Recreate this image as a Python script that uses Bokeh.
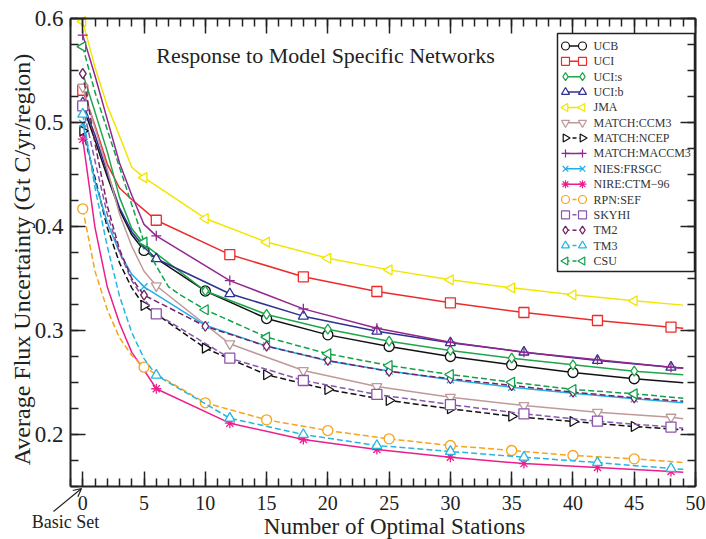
import math
from bokeh.plotting import figure
from bokeh.models import (Range1d, FixedTicker, LinearAxis, Label, Arrow, OpenHead)
from bokeh.embed import file_html
from bokeh.resources import INLINE

# ---------------- data ----------------
names = ["UCB", "UCI", "UCI:s", "UCI:b", "JMA", "MATCH:CCM3", "MATCH:NCEP",
         "MATCH:MACCM3", "NIES:FRSGC", "NIRE:CTM\u221296", "RPN:SEF", "SKYHI",
         "TM2", "TM3", "CSU"]

x5 = [0, 1, 2, 3, 4, 5, 10, 15, 20, 25, 30, 35, 40, 45, 49]
x6 = [0, 1, 2, 3, 4, 5, 6, 12, 18, 24, 30, 36, 42, 48, 49]
x_csu = [0, 1, 2, 3, 4, 5, 6, 7, 8, 10, 15, 20, 25, 30, 35, 40, 45, 49]

ucb = [0.516, 0.483, 0.448, 0.416, 0.392, 0.377, 0.338, 0.3115, 0.2958, 0.2846, 0.275, 0.267, 0.2596, 0.2536, 0.2497]
uci = [0.531, 0.497, 0.460, 0.437, 0.426, 0.416, 0.406, 0.373, 0.3516, 0.3375, 0.3266, 0.3173, 0.3096, 0.3032, 0.3022]
uci_s = [0.547, 0.510, 0.472, 0.428, 0.398, 0.383, 0.338, 0.3154, 0.3013, 0.2897, 0.2808, 0.2734, 0.267, 0.2609, 0.2574]
uci_b = [0.519, 0.488, 0.452, 0.418, 0.395, 0.380, 0.369, 0.3353, 0.3138, 0.2993, 0.2882, 0.2792, 0.2712, 0.2647, 0.2640]
jma = [0.597, 0.553, 0.516, 0.487, 0.457, 0.447, 0.4077, 0.385, 0.3695, 0.3583, 0.3487, 0.341, 0.3343, 0.3285, 0.3244]
ccm3 = [0.534, 0.495, 0.455, 0.412, 0.381, 0.357, 0.343, 0.2872, 0.2615, 0.2462, 0.2359, 0.2279, 0.2214, 0.2167, 0.2151]
ncep = [0.492, 0.447, 0.399, 0.365, 0.341, 0.324, 0.283, 0.2574, 0.2433, 0.2327, 0.2247, 0.2176, 0.2125, 0.2077, 0.2045]
maccm3 = [0.584, 0.545, 0.503, 0.461, 0.430, 0.402, 0.391, 0.348, 0.3208, 0.3022, 0.2888, 0.2792, 0.2718, 0.2647, 0.2637]
nies = [0.499, 0.443, 0.404, 0.375, 0.354, 0.342, 0.305, 0.285, 0.2706, 0.261, 0.2526, 0.2455, 0.2397, 0.2343, 0.2305]
nire = [0.484, 0.399, 0.342, 0.307, 0.279, 0.262, 0.244, 0.2109, 0.1952, 0.1856, 0.1782, 0.172, 0.1683, 0.1644, 0.1637]
rpn = [0.417, 0.357, 0.320, 0.293, 0.276, 0.2647, 0.2305, 0.2141, 0.2038, 0.1958, 0.1894, 0.1846, 0.1798, 0.1766, 0.1731]
skyhi = [0.516, 0.463, 0.412, 0.375, 0.348, 0.330, 0.316, 0.2734, 0.2519, 0.2385, 0.2288, 0.2199, 0.2128, 0.2071, 0.2061]
tm2 = [0.547, 0.480, 0.420, 0.378, 0.350, 0.334, 0.3041, 0.2849, 0.2712, 0.2606, 0.2536, 0.2471, 0.2407, 0.2353, 0.2320]
tm3 = [0.508, 0.437, 0.381, 0.333, 0.298, 0.273, 0.257, 0.2157, 0.200, 0.1894, 0.1837, 0.1782, 0.173, 0.1673, 0.1665]
csu = [0.573, 0.529, 0.493, 0.457, 0.421, 0.385, 0.362, 0.342, 0.334, 0.320, 0.2936, 0.2776, 0.2663, 0.2577, 0.2503, 0.2433, 0.2391, 0.2349]

xs_list = [x5, x6, x5, x6, x5, x6, x5, x6, x5, x6, x5, x6, x5, x6, x_csu]
ys_list = [ucb, uci, uci_s, uci_b, jma, ccm3, ncep, maccm3, nies, nire, rpn, skyhi, tm2, tm3, csu]
marker_step = [5, 6, 5, 6, 5, 6, 5, 6, 5, 6, 5, 6, 5, 6, 5]

x_major = [0, 5, 10, 15, 20, 25, 30, 35, 40, 45, 50]
x_minor = list(range(-1, 51))
y_major = [0.2, 0.3, 0.4, 0.5, 0.6]
y_minor = [0.15, 0.175, 0.2, 0.225, 0.25, 0.275, 0.3, 0.325, 0.35, 0.375, 0.4, 0.425,
           0.45, 0.475, 0.5, 0.525, 0.55, 0.575, 0.6]

x_label = "Number of Optimal Stations"
y_label = "Average Flux Uncertainty (Gt C/yr/region)"
title_text = "Response to Model Specific Networks"
note_text = "Basic Set"

# ---------------- styles ----------------
colors = ["#111111", "#ee2b2b", "#1fa64a", "#2e3192", "#f2e600", "#bf9a9a", "#111111",
          "#93278f", "#22aee8", "#ec1e8c", "#f7a31c", "#8a56ac", "#772262", "#26b6e0", "#12a04a"]
markers = ["circle", "square", "diamond", "triangle", "triangle", "inverted_triangle", "triangle",
           "cross", "x", "asterisk", "circle", "square", "diamond", "triangle", "triangle"]
angles = [0, 0, 0, 0, math.pi / 2, 0, -math.pi / 2, 0, 0, 0, 0, 0, 0, 0, math.pi / 2]
dashed = [False, False, False, False, False, False, True, False, False, False, True, True, True, True, True]

FONT = "Liberation Serif"
XL, XR, YB, YT = -1.0, 50.0, 0.15, 0.6          # the drawn axis box (data)
FL, FR, FT, FB = 70, 695, 18, 486               # the drawn axis box (pixels)
W, H = 706, 539
SX = (FR - FL) / (XR - XL)
SY = (FB - FT) / (YT - YB)


def dx(px):
    return XL + (px - FL) / SX


def dy(py):
    return YB + (FB - py) / SY


# the frame covers the whole canvas; the axes are drawn at fixed data locations
p = figure(width=W, height=H, output_backend="svg", toolbar_location=None,
           x_range=Range1d(dx(0), dx(W)), y_range=Range1d(dy(H), dy(0)),
           min_border=0, x_axis_location=None, y_axis_location=None)
p.grid.visible = False
p.outline_line_color = None
p.background_fill_color = "white"
p.border_fill_color = "white"


def make_axis(kind, loc, show_labels):
    if kind == "x":
        ax = LinearAxis(ticker=FixedTicker(ticks=x_major, minor_ticks=x_minor),
                        fixed_location=loc, bounds=(XL, XR))
    else:
        ax = LinearAxis(ticker=FixedTicker(ticks=y_major, minor_ticks=y_minor),
                        fixed_location=loc, bounds=(YB, YT))
    ax.axis_line_color = "#222222"
    ax.axis_line_width = 2
    ax.major_tick_line_color = "#222222"
    ax.minor_tick_line_color = "#222222"
    ax.major_tick_line_width = 1.5
    ax.minor_tick_line_width = 1.5
    ax.major_tick_in = 15
    ax.major_tick_out = 0
    ax.minor_tick_in = 8
    ax.minor_tick_out = 0
    ax.major_label_text_font = FONT
    ax.major_label_text_color = "#222222"
    if show_labels:
        if kind == "x":
            ax.major_label_text_font_size = "20px"
            ax.major_label_standoff = 9
        else:
            ax.major_label_text_font_size = "23px"
            ax.major_label_standoff = 7
    else:
        ticks = x_major if kind == "x" else y_major
        ax.major_label_overrides = {t: "" for t in ticks}
        ax.major_label_text_font_size = "10px"
        ax.major_label_standoff = 0
    return ax


p.add_layout(make_axis("x", YB, True), "below")
p.add_layout(make_axis("y", XL, True), "left")
p.add_layout(make_axis("x", YT, False), "above")
p.add_layout(make_axis("y", XR, False), "right")

# ---------------- series ----------------
for i in range(len(names)):
    xs, ys = xs_list[i], ys_list[i]
    dash = "6 3" if dashed[i] else "solid"
    p.line(xs, ys, line_color=colors[i], line_width=1.5, line_dash=dash)
    mx = [x for x in xs if x % marker_step[i] == 0 and x < 49]
    my = [y for x, y in zip(xs, ys) if x % marker_step[i] == 0 and x < 49]
    p.scatter(mx, my, marker=markers[i], size=10, angle=angles[i],
              line_color=colors[i], line_width=1.3, fill_color="white")

# ---------------- legend (drawn) ----------------
LX0, LX1, LY0, LY1 = 557, 694, 33, 271
p.quad(left=[dx(LX0)], right=[dx(LX1)], top=[dy(LY0)], bottom=[dy(LY1)],
       fill_color="white", line_color="#222222", line_width=1.5)
for i, nm in enumerate(names):
    py = 45.5 + i * 15.35
    dash = "4 3" if dashed[i] else "solid"
    p.line([dx(565), dx(582)], [dy(py), dy(py)], line_color=colors[i], line_width=1.5, line_dash=dash)
    p.scatter([dx(565), dx(582)], [dy(py), dy(py)], marker=markers[i], size=8, angle=angles[i],
              line_color=colors[i], line_width=1.2, fill_color="white")
    p.add_layout(Label(x=dx(593), y=dy(py), text=nm, text_font=FONT, text_font_size="12px",
                       text_color="#333333", text_baseline="middle"))

# ---------------- texts ----------------
p.add_layout(Label(x=dx(325), y=dy(55), text=title_text, text_font=FONT,
                   text_font_size="22px", text_color="#222222", text_align="center",
                   text_baseline="middle"))
p.add_layout(Label(x=dx(21), y=dy(259), text=y_label, text_font=FONT,
                   text_font_size="24px", text_color="#222222", text_align="center",
                   text_baseline="middle", angle=math.pi / 2))
p.add_layout(Label(x=dx(394), y=dy(526), text=x_label, text_font=FONT,
                   text_font_size="23px", text_color="#222222", text_align="center",
                   text_baseline="middle"))
p.add_layout(Label(x=dx(65), y=dy(521), text=note_text, text_font=FONT,
                   text_font_size="18px", text_color="#222222", text_align="center",
                   text_baseline="middle"))
p.add_layout(Arrow(end=OpenHead(size=8, line_color="#222222", line_width=1.2),
                   x_start=dx(53), y_start=dy(511), x_end=dx(81), y_end=dy(488),
                   line_color="#222222", line_width=1.2))

open("out.html", "w").write(file_html(p, INLINE))
